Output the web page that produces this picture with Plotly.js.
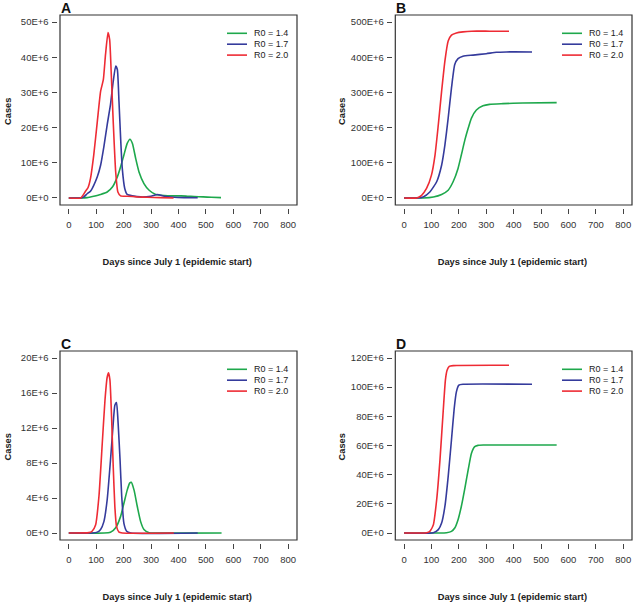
<!DOCTYPE html>
<html>
<head>
<meta charset="utf-8">
<script src="https://cdn.plot.ly/plotly-3.0.1.min.js"></script>
<style>html,body{margin:0;padding:0;background:#fff;}#chart{width:633px;height:603px;}</style>
</head>
<body>
<div id="chart"></div>
<script>
// ---------- data (values in millions of cases) ----------
var seriesNames = ['R0 = 1.4', 'R0 = 1.7', 'R0 = 2.0'];
var seriesColors = ['#1ea84c', '#353b9c', '#ee2b34'];

// Panel A: daily cases
var daysA_14 = [0, 40, 67, 91, 116, 140, 159, 177, 189, 201, 213, 223, 232, 244, 256, 274, 293, 317, 348, 380, 409, 432, 457, 490, 520, 555];
var casesA_14 = [0, 0, 0.1, 0.5, 1.0, 1.7, 3.1, 6.0, 8.9, 12.2, 15.5, 16.7, 15.5, 11.2, 7.4, 4.1, 2.2, 1.0, 0.7, 0.6, 0.6, 0.5, 0.4, 0.3, 0.2, 0.1];
var daysA_17 = [0, 43, 55, 67, 79, 91, 104, 116, 128, 140, 152, 162, 171, 177, 183, 189, 195, 204, 213, 232, 262, 299, 323, 348, 384, 420, 470];
var casesA_17 = [0, 0, 0.3, 1.2, 1.9, 3.6, 6.0, 9.3, 14.6, 20.8, 26.5, 33.1, 37.5, 36.5, 27.4, 17.0, 8.4, 2.7, 1.0, 0.6, 0.3, 0.5, 1.0, 0.5, 0.2, 0.1, 0.05];
var daysA_20 = [0, 43, 52, 61, 70, 79, 91, 104, 116, 126, 134, 143, 149, 155, 162, 171, 179, 189, 213, 250, 287, 335, 382];
var casesA_20 = [0, 0, 0.8, 1.9, 2.9, 5.5, 12.2, 21.7, 30.3, 33.6, 40.8, 47.0, 45.0, 35.0, 21.7, 7.4, 1.7, 0.6, 0.5, 0.3, 0.2, 0.1, 0];

// Panel B: cumulative cases
var daysB_14 = [0, 70, 107, 137, 161, 179, 197, 209, 222, 234, 246, 264, 288, 312, 361, 433, 557];
var casesB_14 = [0, 0, 3, 10, 22, 46, 84, 122, 165, 198, 227, 250, 262, 266, 268, 270, 271];
var daysB_17 = [0, 46, 70, 94, 119, 137, 149, 161, 173, 185, 197, 215, 252, 300, 337, 373, 467];
var casesB_17 = [0, 0, 3, 17, 46, 93, 150, 227, 312, 379, 396, 403, 406, 410, 414, 415, 415];
var daysB_20 = [0, 46, 64, 82, 100, 113, 125, 137, 149, 161, 173, 191, 215, 246, 312, 383];
var casesB_20 = [0, 0, 7.6, 27, 65, 122, 208, 303, 389, 446, 463, 469, 472, 474, 474, 474];

// Panel C: daily cases
var daysC_14 = [0, 152, 171, 189, 201, 213, 222, 228, 238, 250, 262, 274, 293, 310, 557];
var casesC_14 = [0, 0.08, 0.6, 1.9, 3.4, 4.9, 5.7, 5.8, 4.9, 3.0, 1.3, 0.4, 0.04, 0, 0];
var daysC_17 = [0, 85, 104, 116, 128, 140, 152, 161, 168, 174, 180, 187, 193, 201, 211, 226, 470];
var casesC_17 = [0, 0, 0.1, 0.4, 1.3, 3.8, 8.3, 12.1, 14.6, 14.9, 12.5, 8.3, 4.2, 1.1, 0.2, 0, 0];
var daysC_20 = [0, 73, 85, 98, 110, 122, 132, 140, 145, 150, 156, 162, 168, 174, 183, 195, 383];
var casesC_20 = [0, 0.04, 0.2, 0.95, 4.2, 10.2, 15.2, 17.8, 18.3, 17.5, 13.3, 7.6, 3.0, 0.76, 0.1, 0, 0];

// Panel D: cumulative cases
var daysD_14 = [0, 155, 173, 185, 197, 209, 222, 234, 246, 258, 270, 290, 557];
var casesD_14 = [0, 0.2, 1.1, 3.4, 9.1, 18.2, 30.8, 43.3, 54.7, 59.2, 60.1, 60.3, 60.3];
var daysD_17 = [0, 107, 125, 137, 149, 161, 173, 183, 191, 200, 215, 467];
var casesD_17 = [0, 0.2, 2.3, 6.8, 18.2, 38.7, 63.8, 85.4, 96.8, 101.4, 102, 102];
var daysD_20 = [0, 82, 94, 107, 119, 131, 143, 151, 157, 165, 179, 383];
var casesD_20 = [0, 0.2, 1.1, 5.7, 22.8, 50, 84, 105, 111.6, 114.3, 114.8, 115];

// ticks
var xTicks = [0, 100, 200, 300, 400, 500, 600, 700, 800];
var yTicksA = [0, 10, 20, 30, 40, 50];
var yLabelsA = ['0E+0', '10E+6', '20E+6', '30E+6', '40E+6', '50E+6'];
var yTicksB = [0, 100, 200, 300, 400, 500];
var yLabelsB = ['0E+0', '100E+6', '200E+6', '300E+6', '400E+6', '500E+6'];
var yTicksC = [0, 4, 8, 12, 16, 20];
var yLabelsC = ['0E+0', '4E+6', '8E+6', '12E+6', '16E+6', '20E+6'];
var yTicksD = [0, 20, 40, 60, 80, 100, 120];
var yLabelsD = ['0E+0', '20E+6', '40E+6', '60E+6', '80E+6', '100E+6', '120E+6'];

var panelLetters = ['A', 'B', 'C', 'D'];
var xTitle = 'Days since July 1 (epidemic start)';
var yTitle = 'Cases';

// ---------- layout helpers ----------
var W = 633, H = 603, GAP = 2.5;
var FONT = 'Liberation Sans, Arial, Helvetica, sans-serif';
var panels = [
  {box: {l: 60, r: 297, t: 15, b: 205}, ymax: 50, ticks: yTicksA, labels: yLabelsA, standoff: 7,
   days: [daysA_14, daysA_17, daysA_20], cases: [casesA_14, casesA_17, casesA_20]},
  {box: {l: 395.3, r: 632, t: 15, b: 205}, ymax: 500, ticks: yTicksB, labels: yLabelsB, standoff: 3,
   days: [daysB_14, daysB_17, daysB_20], cases: [casesB_14, casesB_17, casesB_20]},
  {box: {l: 60, r: 297, t: 351, b: 540}, ymax: 20, ticks: yTicksC, labels: yLabelsC, standoff: 7,
   days: [daysC_14, daysC_17, daysC_20], cases: [casesC_14, casesC_17, casesC_20]},
  {box: {l: 395.3, r: 632, t: 351, b: 540}, ymax: 120, ticks: yTicksD, labels: yLabelsD, standoff: 3,
   days: [daysD_14, daysD_17, daysD_20], cases: [casesD_14, casesD_17, casesD_20]}
];

var data = [];
var layout = {
  width: W, height: H,
  margin: {l: 0, r: 0, t: 0, b: 0},
  paper_bgcolor: '#ffffff', plot_bgcolor: 'rgba(0,0,0,0)',
  showlegend: false,
  font: {family: FONT, color: '#222'},
  shapes: [], annotations: []
};

panels.forEach(function (p, i) {
  var n = i === 0 ? '' : String(i + 1);
  var b = p.box;
  var xlo = -32, xhi = 832;
  var pxPerDay = (b.r - b.l) / (xhi - xlo);
  var ylo = -0.04 * p.ymax, yhi = 1.04 * p.ymax;
  var pxPerUnit = (b.b - b.t) / (yhi - ylo);

  layout['xaxis' + n] = {
    domain: [(b.l - GAP) / W, b.r / W],
    range: [xlo - GAP / pxPerDay, xhi],
    anchor: 'y' + n,
    tickmode: 'array', tickvals: xTicks, ticktext: xTicks.map(String),
    ticks: 'outside', ticklen: 5, tickwidth: 1, tickcolor: '#444',
    ticklabelstandoff: 3,
    tickfont: {size: 9.5, color: '#333', family: FONT},
    showline: false, showgrid: false, zeroline: false, fixedrange: true,
    title: {text: '<b>' + xTitle + '</b>', font: {size: 9.3, color: '#222', family: FONT}, standoff: 29}
  };
  layout['yaxis' + n] = {
    domain: [1 - (b.b + GAP) / H, 1 - b.t / H],
    range: [ylo - GAP / pxPerUnit, yhi],
    anchor: 'x' + n,
    tickmode: 'array', tickvals: p.ticks, ticktext: p.labels,
    ticks: 'outside', ticklen: 5, tickwidth: 1, tickcolor: '#444',
    ticklabelstandoff: 1,
    tickfont: {size: 9.5, color: '#333', family: FONT},
    showline: false, showgrid: false, zeroline: false, fixedrange: true,
    title: {text: '<b>' + yTitle + '</b>', font: {size: 9.3, color: '#222', family: FONT}, standoff: p.standoff}
  };

  for (var s = 0; s < 3; s++) {
    data.push({
      type: 'scatter', mode: 'lines',
      x: p.days[s], y: p.cases[s],
      xaxis: 'x' + n, yaxis: 'y' + n,
      name: seriesNames[s],
      line: {color: seriesColors[s], width: 1.6, shape: 'spline', smoothing: 0.5},
      hoverinfo: 'skip'
    });
  }

  // plot box
  layout.shapes.push({
    type: 'rect', xref: 'paper', yref: 'paper', layer: 'above',
    x0: b.l / W, x1: b.r / W, y0: 1 - b.b / H, y1: 1 - b.t / H,
    line: {color: '#333', width: 1.2}
  });

  // panel letter
  layout.annotations.push({
    xref: 'paper', yref: 'paper', x: (b.l - 1) / W, y: 1 - (b.t - 7) / H,
    xanchor: 'left', yanchor: 'middle', showarrow: false,
    text: '<b>' + panelLetters[i] + '</b>', font: {size: 14, color: '#111', family: FONT}
  });

  // legend (per panel)
  for (var k = 0; k < 3; k++) {
    var rowY = b.t + 18.3 + k * 10.9;
    layout.shapes.push({
      type: 'line', xref: 'paper', yref: 'paper', layer: 'above',
      x0: (b.r - 70) / W, x1: (b.r - 50) / W, y0: 1 - rowY / H, y1: 1 - rowY / H,
      line: {color: seriesColors[k], width: 1.6}
    });
    layout.annotations.push({
      xref: 'paper', yref: 'paper', x: (b.r - 45.5) / W, y: 1 - rowY / H,
      xanchor: 'left', yanchor: 'middle', showarrow: false,
      text: seriesNames[k], font: {size: 9, color: '#222', family: FONT}
    });
  }
});

Plotly.newPlot('chart', data, layout, {staticPlot: true, displayModeBar: false});
</script>
</body>
</html>
